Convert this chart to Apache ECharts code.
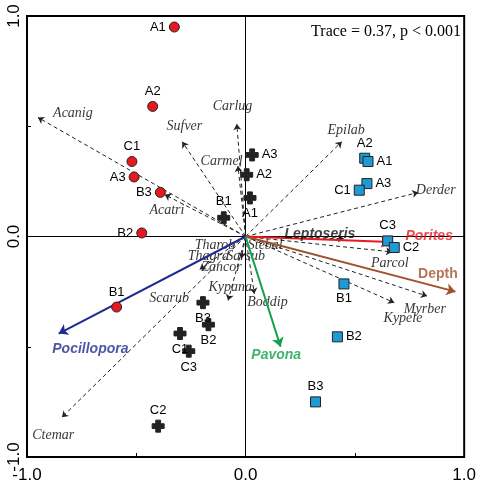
<!DOCTYPE html><html><head><meta charset="utf-8">
<script src="https://cdn.jsdelivr.net/npm/echarts@6/dist/echarts.min.js"></script>
<style>html,body{margin:0;padding:0;background:#fff}#c{width:479px;height:485px}</style></head><body><div id="c"></div>
<script>
const redSites=[["A1",-0.326,0.95,"left"],["A2",-0.425,0.59,"top"],["C1",-0.52,0.34,"top"],["A3",-0.51,0.27,"left"],["B3",-0.39,0.20,"left"],["B2",-0.475,0.016,"left"],["B1",-0.59,-0.32,"top"]];
const blackSites=[["A3",0.03,0.37,"right"],["A2",0.005,0.28,"right"],["A1",0.02,0.175,"bottom"],["B1",-0.10,0.085,"top"],["B3",-0.195,-0.30,"bottom"],["B2",-0.17,-0.40,"bottom"],["C1",-0.30,-0.44,"bottom"],["C3",-0.26,-0.52,"bottom"],["C2",-0.40,-0.86,"top"]];
const blueSites=[["A2",0.545,0.355,"top"],["A1",0.56,0.34,"right"],["A3",0.555,0.24,"right"],["C1",0.52,0.21,"left"],["C3",0.65,-0.02,"top"],["C2",0.68,-0.05,"right"],["B1",0.45,-0.215,"bottom"],["B2",0.42,-0.455,"right"],["B3",0.32,-0.75,"top"]];
const species=[["Acanig",-0.95,0.54],["Sufver",-0.29,0.43],["Carlug",-0.04,0.51],["Carmel",-0.035,0.32],["Acatri",-0.37,0.19],["Epilab",0.44,0.43],["Derder",0.79,0.20],["Scarub",-0.21,-0.15],["Ctemar",-0.84,-0.82],["Kypana",-0.08,-0.29],["Boddip",0.04,-0.26],["Zancor",-0.02,-0.10],["Kypele",0.68,-0.30],["Myrber",0.83,-0.27],["Parcol",0.67,-0.07],["Leptoseris",0.45,-0.01]];
const speciesLabels=[["Acanig",-0.79,0.56],["Sufver",-0.28,0.50],["Carlug",-0.06,0.59],["Carmel",-0.11,0.34],["Acatri",-0.36,0.12],["Epilab",0.46,0.48],["Derder",0.87,0.21],["Scarub",-0.35,-0.28],["Ctemar",-0.88,-0.90],["Kypana",-0.07,-0.23],["Boddip",0.10,-0.30],["Zancor",-0.11,-0.14],["Kypele",0.72,-0.37],["Myrber",0.82,-0.33],["Parcol",0.66,-0.12],["Tharob",-0.14,-0.04],["Stebal",0.09,-0.04],["Thagra",-0.17,-0.09],["Sarsub",0.0,-0.09]];
const env=[["Porites",0.66,-0.025,"#e8191e"],["Depth",0.96,-0.25,"#a0522d"],["Pocillopora",-0.855,-0.44,"#1f2c8f"],["Pavona",0.16,-0.50,"#10a04a"]];
const envLabels=[["Porites",0.84,0.0],["Depth",0.88,-0.17],["Pocillopora",-0.71,-0.51],["Pavona",0.14,-0.54],["Leptoseris",0.34,0.01]];

function arrows(list){return list.map(s=>[{coord:[0,0]},{coord:[s[1],s[2]],lineStyle:s[3]?{color:s[3]}:{}}]);}
const fmt=v=>(Math.abs(v)===0.5)?'':v.toFixed(1);
const siteSeries=(data,sym,col,size)=>({type:'scatter',data:data.map(d=>({value:[d[1],d[2]],name:d[0],label:{position:d[3]}})),symbol:sym,symbolSize:size,
 itemStyle:{color:col,borderColor:'#222',borderWidth:1,opacity:1},z:5,
 label:{show:true,formatter:p=>p.name,distance:3,fontFamily:'Arial, Liberation Sans',fontSize:13,color:'#000'}});
const cross='path://M3,0H7V3H10V7H7V10H3V7H0V3H3Z';
const labelColor={Porites:'#e8191e',Depth:'#a0522d',Pocillopora:'#1f2c8f',Pavona:'#10a04a',Leptoseris:'#111'};
const chart=echarts.init(document.getElementById('c'));
chart.setOption({
 animation:false,
 grid:{left:27,right:10,top:16,bottom:28,show:true,borderColor:'#000',borderWidth:2},
 xAxis:{type:'value',min:-1,max:1,interval:0.5,splitLine:{show:false},axisLine:{show:false,onZero:false},
  axisTick:{inside:true,length:4,lineStyle:{color:'#000'}},
  axisLabel:{formatter:fmt,fontFamily:'Arial, Liberation Sans',fontSize:17,color:'#000',margin:10}},
 yAxis:{type:'value',min:-1,max:1,interval:0.5,splitLine:{show:false},axisLine:{show:false,onZero:false},
  axisTick:{inside:true,length:4,lineStyle:{color:'#000'}},
  axisLabel:{formatter:fmt,fontFamily:'Arial, Liberation Sans',fontSize:17,color:'#000',rotate:90,margin:4}},
 graphic:[{type:'text',right:18,top:24,style:{text:'Trace = 0.37, p < 0.001',font:'16px "Liberation Serif", serif',fill:'#000'}}],
 series:[
  {type:'scatter',data:[],markLine:{silent:true,symbol:'none',label:{show:false},lineStyle:{color:'#000',width:1,type:'solid'},data:[{xAxis:0},{yAxis:0}]}},
  {type:'scatter',data:[],markLine:{silent:true,symbol:['none','arrow'],symbolSize:6,label:{show:false},
    lineStyle:{color:'#222',width:1,type:[4,3]},data:arrows(species)}},
  {type:'scatter',data:[],z:4,markLine:{silent:true,symbol:['none','arrow'],symbolSize:9,label:{show:false},
    lineStyle:{width:2,type:'solid'},data:arrows(env)}},
  siteSeries(redSites,'circle','#e8191e',10),
  siteSeries(blackSites,cross,'#222',12),
  siteSeries(blueSites,'rect','#1e9ad6',10),
  {type:'scatter',symbolSize:0,data:speciesLabels.map(d=>({value:[d[1],d[2]],name:d[0]})),
   label:{show:true,formatter:p=>p.name,position:'inside',fontFamily:'"Liberation Serif", serif',fontStyle:'italic',fontSize:14,color:'#000'}},
  {type:'scatter',symbolSize:0,z:6,data:envLabels.map(d=>({value:[d[1],d[2]],name:d[0],
     label:{color:labelColor[d[0]],fontStyle:d[0]==='Depth'?'normal':'italic'}})),
   label:{show:true,formatter:p=>p.name,position:'inside',fontFamily:'Arial, Liberation Sans',fontWeight:'bold',fontSize:14}}
 ]
});
</script></body></html>
